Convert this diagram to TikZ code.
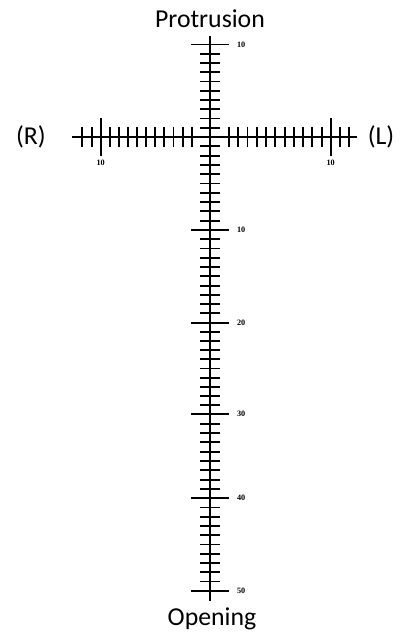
\documentclass[tikz,border=0pt]{standalone}
\usepackage{fontspec}
\setmainfont{Carlito}
\newfontfamily\numfont{Liberation Serif}

\tikzset{
  axisline/.style={line width=2.2pt},
  tickline/.style={line width=1.6pt},
  lab/.style={font=\fontsize{22}{26}\selectfont},
  num/.style={font=\numfont\bfseries\fontsize{7}{8}\selectfont}
}

\begin{document}
\begin{tikzpicture}[x=0.03cm, y=-0.03cm]

\useasboundingbox (0,0) rectangle (401,633);

\def\xc{210}; % vertical axis
\def\yc{137}; % horizontal axis
\def\ytop{36}; % top end
\def\ybot{601}; % bottom end
\def\xlft{72}; % left end
\def\xrgt{357}; % right end

\def\ts{10}; % small tick, half length
\def\tb{19}; % big tick, half length

% axes
\draw[axisline] (\xc, \ytop) -- (\xc, \ybot);
\draw[axisline] (\xlft, \yc) -- (\xrgt, \yc);

% vertical small ticks, between the big ones
\foreach \ya/\yz/\n in {44.5/137/10, 137/230/10, 230/322.7/10, 322.7/414.3/10, 414.3/498.3/9, 498.3/590.7/10}{
  \pgfmathtruncatemacro\m{\n-1}
  \foreach \k in {1,...,\m}{
    \pgfmathsetmacro\y{\ya + (\yz-\ya)*\k/\n}
    \draw[tickline] (\xc-\ts, \y) -- (\xc+\ts, \y);
  }
}

% vertical big ticks
\foreach \y/\t in {44.5/10, 230/10, 322.7/20, 414.3/30, 498.3/40, 590.7/50}{
  \draw[tickline] (\xc-\tb, \y) -- (\xc+\tb, \y);
  \node[num, anchor=west] at (\xc+23, \y) {\t};
}

% horizontal small ticks
\foreach \i in {0,...,10}{
  \draw[tickline] (\xc+19+9.27*\i, \yc-\ts) -- (\xc+19+9.27*\i, \yc+\ts);
}
\foreach \i in {0,...,9}{
  \draw[tickline] (\xc-18.3-9.1*\i, \yc-\ts) -- (\xc-18.3-9.1*\i, \yc+\ts);
}
\foreach \x in {81.7, 91.7, 340, 349}{
  \draw[tickline] (\x, \yc-\ts) -- (\x, \yc+\ts);
}

% horizontal big ticks
\foreach \x in {100.7, 330.7}{
  \draw[tickline] (\x, \yc-\tb) -- (\x, \yc+\tb);
  \node[num] at (\x, 163) {10};
}

% axis names
\node[lab, anchor=base] (prot) at (\xc, 27) {Protrusion};
\node[lab, anchor=base] (open) at (212, 625) {Opening};
\node[lab] (rgt) at (31, \yc) {(R)};
\node[lab] (lft) at (381, \yc) {(L)};

\end{tikzpicture}
\end{document}
